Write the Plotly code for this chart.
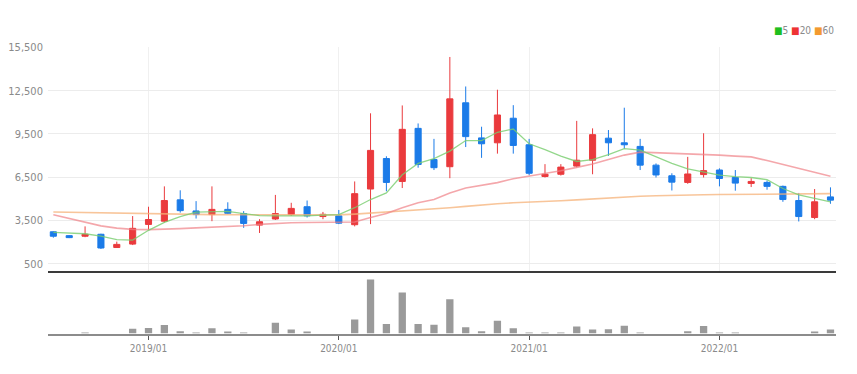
import plotly.graph_objects as go

months = ["2018/07","2018/08","2018/09","2018/10","2018/11","2018/12",
          "2019/01","2019/02","2019/03","2019/04","2019/05","2019/06",
          "2019/07","2019/08","2019/09","2019/10","2019/11","2019/12",
          "2020/01","2020/02","2020/03","2020/04","2020/05","2020/06",
          "2020/07","2020/08","2020/09","2020/10","2020/11","2020/12",
          "2021/01","2021/02","2021/03","2021/04","2021/05","2021/06",
          "2021/07","2021/08","2021/09","2021/10","2021/11","2021/12",
          "2022/01","2022/02","2022/03","2022/04","2022/05","2022/06",
          "2022/07","2022/08"]

open_ = [2716, 2450, 2409, 2545, 1625, 1864, 3227, 3452, 4932, 4161,
         3909, 4270, 3977, 3180, 3602, 3909, 4454, 3773, 3820, 3207,
         5682, 7795, 6207, 9888, 7727, 7229, 11661, 9227, 8886, 10591,
         8750, 6548, 6705, 7270, 7679, 9207, 8886, 8636, 7338, 6602,
         6139, 6684, 7000, 6480, 6071, 6139, 5866, 4884, 3705, 5136]
high = [2750, 2480, 3091, 2580, 2034, 3807, 4454, 5866, 5593, 4843,
        5866, 4761, 4148, 3589, 5273, 4727, 4884, 4093, 4229, 6207,
        10932, 7952, 11477, 10229, 9159, 14838, 12793, 10002, 12568, 11497,
        9159, 7407, 7407, 10406, 9888, 9773, 11320, 9159, 7455, 6773,
        7911, 9548, 7114, 6998, 6432, 6275, 5920, 5409, 5682, 5798]
low = [2307, 2280, 2341, 1523, 1591, 1795, 2852, 3364, 4045, 3636,
       3452, 3943, 2989, 2634, 3534, 3820, 3705, 3589, 3248, 3091,
       3248, 5525, 5750, 7161, 6998, 6432, 8593, 7843, 8136, 8136,
       6636, 6480, 6616, 7182, 6705, 7979, 8477, 6998, 6480, 5580,
       6043, 6480, 5866, 5566, 5818, 5634, 4795, 3432, 3589, 4659]
close = [2409, 2310, 2545, 1591, 1843, 2955, 3568, 4884, 4182, 3909,
         4270, 3998, 3295, 3411, 3977, 4339, 3820, 3929, 3316, 5361,
         8361, 6139, 9820, 7386, 7161, 11934, 9316, 8818, 10816, 8702,
         6773, 6705, 7202, 7679, 9452, 8886, 8750, 7338, 6657, 6159,
         6725, 6957, 6411, 6091, 6207, 5866, 4952, 3773, 4795, 4911]

ma5 = [2682, 2648, 2580, 2409, 2170, 2136, 2818, 3364, 3773, 4080,
       4114, 4134, 3977, 3841, 3820, 3820, 3820, 3875, 3909, 4386,
       4952, 5409, 6670, 7455, 7795, 8307, 9043, 9043, 9616, 9841,
       8818, 8409, 7966, 7591, 7727, 8068, 8477, 8375, 7932, 7455,
       7080, 6854, 6650, 6548, 6480, 6330, 5716, 5273, 5034, 4795]
ma20 = [3902, 3636, 3364, 3125, 2968, 2886, 2866, 2886, 2934, 2989,
        3023, 3091, 3139, 3227, 3295, 3343, 3364, 3364, 3364, 3398,
        3705, 3977, 4386, 4727, 4952, 5409, 5750, 5955, 6125, 6398,
        6568, 6725, 6943, 7182, 7420, 7727, 8034, 8239, 8204, 8170,
        8136, 8102, 8034, 7966, 7911, 7659, 7386, 7114, 6841, 6568]
ma60 = [4093, 4080, 4066, 4045, 4025, 4004, 3977, 3957, 3936, 3923,
        3909, 3909, 3909, 3895, 3889, 3875, 3868, 3861, 3889, 3943,
        4011, 4080, 4182, 4250, 4318, 4386, 4475, 4591, 4659, 4727,
        4761, 4809, 4864, 4932, 5000, 5068, 5136, 5184, 5218, 5252,
        5273, 5286, 5300, 5307, 5320, 5327, 5341, 5341, 5354, 5361]

volume = [0, 0, 70000, 0, 0, 500000, 570000, 870000, 230000, 70000,
          530000, 200000, 70000, 0, 1100000, 400000, 200000, 0, 0, 1430000,
          5500000, 970000, 4170000, 970000, 900000, 3500000, 630000, 230000, 1300000, 530000,
          70000, 70000, 70000, 730000, 400000, 430000, 800000, 70000, 0, 0,
          230000, 770000, 70000, 70000, 0, 0, 0, 0, 200000, 400000]

y_ticks = [500, 3500, 6500, 9500, 12500, 15500]
y_tick_text = ["500", "3,500", "6,500", "9,500", "12,500", "15,500"]
x_ticks = ["2019/01", "2020/01", "2021/01", "2022/01"]

RED = "#ea3a3d"
BLUE = "#1b7be8"
FONT = "Liberation Sans Narrow, DejaVu Sans Condensed, Roboto Condensed, Roboto, sans-serif"

# page has an 8px body margin: figure pixel = page pixel - 8
W, H = 849, 358
def fx(px):
    return (px - 8) / W
def fy(py):
    return 1 - (py - 8) / H

fig = go.Figure()
fig.add_trace(go.Candlestick(
    x=months, open=open_, high=high, low=low, close=close,
    increasing=dict(line=dict(color=RED, width=1), fillcolor=RED),
    decreasing=dict(line=dict(color=BLUE, width=1), fillcolor=BLUE),
    whiskerwidth=0, showlegend=False, xaxis="x", yaxis="y"))
fig.add_trace(go.Scatter(x=months, y=ma60, mode="lines",
                         line=dict(color="rgba(246,178,120,0.75)", width=1.6),
                         showlegend=False, xaxis="x", yaxis="y"))
fig.add_trace(go.Scatter(x=months, y=ma20, mode="lines",
                         line=dict(color="rgba(240,130,135,0.7)", width=1.6),
                         showlegend=False, xaxis="x", yaxis="y"))
fig.add_trace(go.Scatter(x=months, y=ma5, mode="lines",
                         line=dict(color="rgba(120,205,110,0.8)", width=1.3),
                         showlegend=False, xaxis="x", yaxis="y"))
fig.add_trace(go.Bar(x=months, y=volume, marker=dict(color="#9a9a9a", line=dict(width=0)),
                     showlegend=False, xaxis="x2", yaxis="y2"))

xr = [-0.34, 49.35]
fig.update_layout(
    width=W, height=H,
    margin=dict(l=0, r=0, t=0, b=0),
    paper_bgcolor="white", plot_bgcolor="white",
    font=dict(family=FONT, size=10, color="#8a8a8a"),
    bargap=0.54,
    boxgap=0.45,
    xaxis=dict(domain=[fx(47), fx(836)], anchor="y", type="category",
               range=xr, tickvals=x_ticks, showticklabels=False,
               showgrid=True, gridcolor="#f0f0f0", gridwidth=1,
               showline=True, linecolor="#3a3a3a", linewidth=2,
               ticks="", rangeslider=dict(visible=False), fixedrange=True),
    yaxis=dict(domain=[fy(269), fy(42)], anchor="x",
               range=[23, 15500], tickvals=y_ticks, ticktext=y_tick_text,
               showgrid=True, gridcolor="#ececec", gridwidth=1,
               zeroline=False, showline=False, ticks="",
               tickfont=dict(size=11, color="#8a8a8a"), ticklabelstandoff=4),
    xaxis2=dict(domain=[fx(47), fx(836)], anchor="y2", type="category",
                range=xr, tickvals=x_ticks, ticktext=x_ticks,
                showgrid=False, showline=True, linecolor="#8c8c8c", linewidth=2,
                ticks="outside", ticklen=4, tickcolor="#555", tickwidth=1,
                tickfont=dict(size=10, color="#8a8a8a")),
    yaxis2=dict(domain=[fy(333), fy(272)], anchor="x2",
                range=[0, 6100000], showticklabels=False, showgrid=False,
                zeroline=False, showline=False, ticks=""),
    annotations=[dict(
        x=fx(836), y=fy(25), xref="paper", yref="paper",
        xanchor="right", yanchor="middle", showarrow=False,
        text=("<span style='color:#1fbf1f'>■</span>5 "
              "<span style='color:#ee3333'>■</span>20 "
              "<span style='color:#f39a2f'>■</span>60"),
        font=dict(size=10, color="#8a8a8a", family=FONT))],
)

fig.write_html("out.html")
